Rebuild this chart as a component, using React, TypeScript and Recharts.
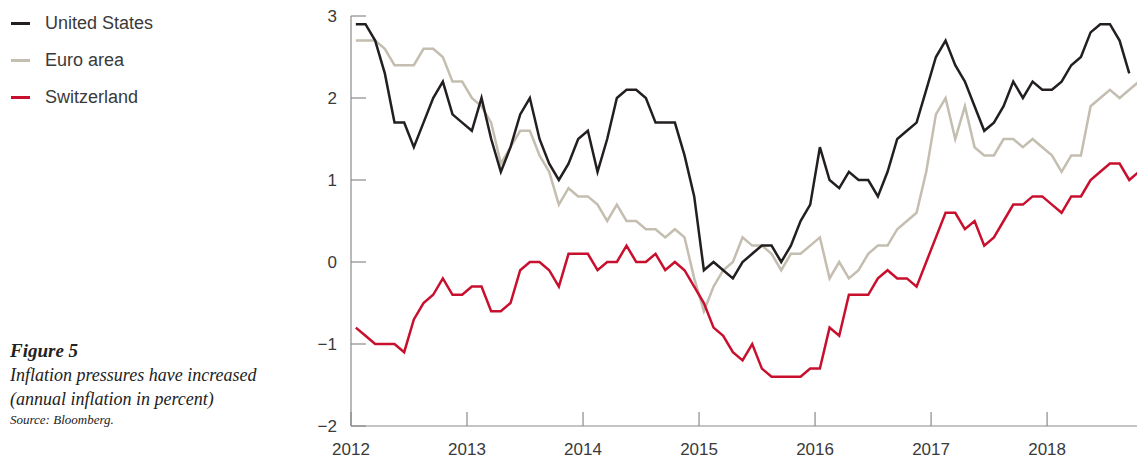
import { LineChart, Line, XAxis, YAxis } from "recharts";

// monthly, Jan 2012 onwards
const unitedStates = [
  2.9, 2.9, 2.7, 2.3, 1.7, 1.7, 1.4, 1.7, 2.0, 2.2, 1.8, 1.7,
  1.6, 2.0, 1.5, 1.1, 1.4, 1.8, 2.0, 1.5, 1.2, 1.0, 1.2, 1.5,
  1.6, 1.1, 1.5, 2.0, 2.1, 2.1, 2.0, 1.7, 1.7, 1.7, 1.3, 0.8,
  -0.1, 0.0, -0.1, -0.2, 0.0, 0.1, 0.2, 0.2, 0.0, 0.2, 0.5, 0.7,
  1.4, 1.0, 0.9, 1.1, 1.0, 1.0, 0.8, 1.1, 1.5, 1.6, 1.7, 2.1,
  2.5, 2.7, 2.4, 2.2, 1.9, 1.6, 1.7, 1.9, 2.2, 2.0, 2.2, 2.1,
  2.1, 2.2, 2.4, 2.5, 2.8, 2.9, 2.9, 2.7, 2.3,
];

const euroArea = [
  2.7, 2.7, 2.7, 2.6, 2.4, 2.4, 2.4, 2.6, 2.6, 2.5, 2.2, 2.2,
  2.0, 1.9, 1.7, 1.2, 1.4, 1.6, 1.6, 1.3, 1.1, 0.7, 0.9, 0.8,
  0.8, 0.7, 0.5, 0.7, 0.5, 0.5, 0.4, 0.4, 0.3, 0.4, 0.3, -0.2,
  -0.6, -0.3, -0.1, 0.0, 0.3, 0.2, 0.2, 0.1, -0.1, 0.1, 0.1, 0.2,
  0.3, -0.2, 0.0, -0.2, -0.1, 0.1, 0.2, 0.2, 0.4, 0.5, 0.6, 1.1,
  1.8, 2.0, 1.5, 1.9, 1.4, 1.3, 1.3, 1.5, 1.5, 1.4, 1.5, 1.4,
  1.3, 1.1, 1.3, 1.3, 1.9, 2.0, 2.1, 2.0, 2.1, 2.2,
];

const switzerland = [
  -0.8, -0.9, -1.0, -1.0, -1.0, -1.1, -0.7, -0.5, -0.4, -0.2, -0.4, -0.4,
  -0.3, -0.3, -0.6, -0.6, -0.5, -0.1, 0.0, 0.0, -0.1, -0.3, 0.1, 0.1,
  0.1, -0.1, 0.0, 0.0, 0.2, 0.0, 0.0, 0.1, -0.1, 0.0, -0.1, -0.3,
  -0.5, -0.8, -0.9, -1.1, -1.2, -1.0, -1.3, -1.4, -1.4, -1.4, -1.4, -1.3,
  -1.3, -0.8, -0.9, -0.4, -0.4, -0.4, -0.2, -0.1, -0.2, -0.2, -0.3, 0.0,
  0.3, 0.6, 0.6, 0.4, 0.5, 0.2, 0.3, 0.5, 0.7, 0.7, 0.8, 0.8,
  0.7, 0.6, 0.8, 0.8, 1.0, 1.1, 1.2, 1.2, 1.0, 1.1,
];

const years = ["2012", "2013", "2014", "2015", "2016", "2017", "2018"];
const yTicks = [-2, -1, 0, 1, 2, 3];

const data = euroArea.map((_, i) => ({
  t: i + 0.5,
  us: unitedStates[i] ?? null,
  ea: euroArea[i],
  ch: switzerland[i],
}));

const axisColor = "#8a8a8a";
const textColor = "#3a3a3a";
const sans = "'Liberation Sans', Arial, sans-serif";

const YTick = (props: any) => {
  const { x, y, payload } = props;
  const v = payload.value;
  return (
    <g>
      <line x1={x} x2={x + 15} y1={y} y2={y} stroke={axisColor} strokeWidth={1.2} />
      <text x={x - 14} y={y} dy={6} textAnchor="end" fontSize={17} fill={textColor} fontFamily={sans}>
        {v < 0 ? "\u2212" + Math.abs(v) : v}
      </text>
    </g>
  );
};

const XTick = (props: any) => {
  const { x, y, payload } = props;
  return (
    <g>
      <line x1={x} x2={x} y1={y - 14} y2={y} stroke={axisColor} strokeWidth={1.2} />
      <text x={x} y={y + 29} textAnchor="middle" fontSize={17} fill={textColor} fontFamily={sans}>
        {years[payload.value / 12]}
      </text>
    </g>
  );
};

const legend = [
  { name: "United States", color: "#231f20" },
  { name: "Euro area", color: "#c4beb0" },
  { name: "Switzerland", color: "#c8102e" },
];

export default function App() {
  return (
    <div style={{ position: "absolute", left: 0, top: 0, width: 1137, height: 459, background: "#fff" }}>
      <LineChart width={1137} height={459} data={data} margin={{ top: 16, right: 0, bottom: 0, left: 0 }}>
        <XAxis
          dataKey="t"
          type="number"
          domain={[0, 81.3]}
          allowDataOverflow
          ticks={[0, 12, 24, 36, 48, 60, 72]}
          tick={<XTick />}
          tickLine={false}
          tickSize={0}
          tickMargin={0}
          height={33}
          stroke={axisColor}
          strokeWidth={1.2}
        />
        <YAxis
          type="number"
          domain={[-2, 3]}
          ticks={yTicks}
          tick={<YTick />}
          tickLine={false}
          tickSize={0}
          tickMargin={0}
          width={351}
          stroke={axisColor}
          strokeWidth={1.2}
        />
        <Line dataKey="ea" stroke="#c4beb0" strokeWidth={2.5} dot={false} isAnimationActive={false} />
        <Line dataKey="ch" stroke="#c8102e" strokeWidth={2.5} dot={false} isAnimationActive={false} />
        <Line dataKey="us" stroke="#231f20" strokeWidth={2.5} dot={false} isAnimationActive={false} connectNulls={false} />
      </LineChart>

      <div style={{ position: "absolute", left: 11, top: 5, fontFamily: sans, fontSize: 18, color: textColor }}>
        {legend.map((l) => (
          <div key={l.name} style={{ display: "flex", alignItems: "center", height: 37 }}>
            <span style={{ display: "inline-block", width: 19, height: 3, background: l.color, marginRight: 15 }} />
            {l.name}
          </div>
        ))}
      </div>

      <div
        style={{
          position: "absolute",
          left: 10,
          top: 339,
          fontFamily: "'Liberation Serif', 'Times New Roman', serif",
          fontStyle: "italic",
          color: "#222",
          lineHeight: "24px",
          fontSize: 18,
        }}
      >
        <div style={{ fontWeight: "bold", fontSize: 19 }}>Figure 5</div>
        <div>Inflation pressures have increased</div>
        <div>(annual inflation in percent)</div>
        <div style={{ fontSize: 13, lineHeight: "18px" }}>Source: Bloomberg.</div>
      </div>
    </div>
  );
}
